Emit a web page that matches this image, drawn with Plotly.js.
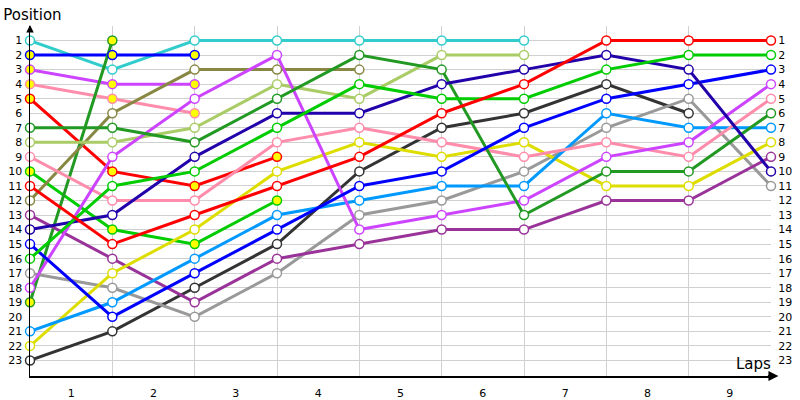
<!DOCTYPE html>
<html>
<head>
<meta charset="utf-8">
<script src="https://cdn.plot.ly/plotly-3.0.1.min.js"></script>
<style>html,body{margin:0;padding:0;background:#fff}#chart{width:800px;height:400px}</style>
</head>
<body>
<div id="chart"></div>
<script>
// Laps (x) and lap labels
const laps = [0, 1, 2, 3, 4, 5, 6, 7, 8, 9];
const lapLabels = ['1', '2', '3', '4', '5', '6', '7', '8', '9'];
const positionTicks = [1,2,3,4,5,6,7,8,9,10,11,12,13,14,15,16,17,18,19,20,21,22,23];

// Position of each entrant after each lap (null = no longer running)
const cyan       = [1, 3, 1, 1, 1, 1, 1, null, null, null];
const blueA      = [2, 2, 2, null, null, null, null, null, null, null];
const violetA    = [3, 4, 4, null, null, null, null, null, null, null];
const pinkA      = [4, 5, 6, null, null, null, null, null, null, null];
const redA       = [5, 10, 11, 9, null, null, null, null, null, null];
const forestB    = [7, 7, 8, 5, 2, 3, 13, 10, 10, 6];
const lightGreen = [8, 8, 7, 4, 5, 2, 2, null, null, null];
const pinkB      = [9, 12, 12, 8, 7, 8, 9, 8, 9, 5];
const limeA      = [10, 14, 15, 12, null, null, null, null, null, null];
const redB       = [11, 15, 13, 11, 9, 6, 4, 1, 1, 1];
const olive      = [12, 6, 3, 3, 3, null, null, null, null, null];
const purple     = [13, 16, 19, 16, 15, 14, 14, 12, 12, 9];
const darkBlue   = [14, 13, 9, 6, 6, 4, 3, 2, 3, 10];
const blueB      = [15, 20, 17, 14, 11, 10, 7, 5, 4, 3];
const limeB      = [16, 11, 10, 7, 4, 5, 5, 3, 2, 2];
const grey       = [17, 18, 20, 17, 13, 12, 10, 7, 5, 11];
const violetB    = [18, 9, 5, 2, 14, 13, 12, 9, 8, 4];
const forestA    = [19, 1, null, null, null, null, null, null, null, null];
const lightBlue  = [21, 19, 16, 13, 12, 11, 11, 6, 7, 7];
const yellow     = [22, 17, 14, 10, 8, 9, 8, 11, 11, 8];
const black      = [23, 21, 18, 15, 10, 7, 6, 4, 6, null];

const series = [
  {name: 'Cyan',        y: cyan,       color: '#33CCCC', fill: '#FFFFFF'},
  {name: 'Blue A',      y: blueA,      color: '#0000FF', fill: '#FFFF00'},
  {name: 'Violet A',    y: violetA,    color: '#CC44FF', fill: '#FFFF00'},
  {name: 'Pink A',      y: pinkA,      color: '#FF8CAA', fill: '#FFFF00'},
  {name: 'Red A',       y: redA,       color: '#FF0000', fill: '#FFFF00'},
  {name: 'Lime A',      y: limeA,      color: '#00CC00', fill: '#FFFF00'},
  {name: 'Forest A',    y: forestA,    color: '#229922', fill: '#FFFF00'},
  {name: 'Olive',       y: olive,      color: '#888844', fill: '#FFFFFF'},
  {name: 'Light green', y: lightGreen, color: '#AACC66', fill: '#FFFFFF'},
  {name: 'Black',       y: black,      color: '#333333', fill: '#FFFFFF'},
  {name: 'Grey',        y: grey,       color: '#999999', fill: '#FFFFFF'},
  {name: 'Purple',      y: purple,     color: '#993399', fill: '#FFFFFF'},
  {name: 'Yellow',      y: yellow,     color: '#DDDD00', fill: '#FFFFFF'},
  {name: 'Light blue',  y: lightBlue,  color: '#0099FF', fill: '#FFFFFF'},
  {name: 'Pink B',      y: pinkB,      color: '#FF8CAA', fill: '#FFFFFF'},
  {name: 'Violet B',    y: violetB,    color: '#CC44FF', fill: '#FFFFFF'},
  {name: 'Forest B',    y: forestB,    color: '#229922', fill: '#FFFFFF'},
  {name: 'Blue B',      y: blueB,      color: '#0000FF', fill: '#FFFFFF'},
  {name: 'Dark blue',   y: darkBlue,   color: '#2200AA', fill: '#FFFFFF'},
  {name: 'Lime B',      y: limeB,      color: '#00CC00', fill: '#FFFFFF'},
  {name: 'Red B',       y: redB,       color: '#FF0000', fill: '#FFFFFF'}
];

const traces = [];
// lines first (base subplot)
series.forEach(s => {
  traces.push({
    type: 'scatter', mode: 'lines', x: laps, y: s.y, name: s.name,
    line: {color: s.color, width: 3}, connectgaps: false,
    showlegend: false, cliponaxis: false, hoverinfo: 'skip'
  });
});
// markers on the overlaying axis so they sit above every line
series.forEach(s => {
  traces.push({
    type: 'scatter', mode: 'markers', x: laps, y: s.y, name: s.name, yaxis: 'y2',
    marker: {symbol: 'circle', size: 9, color: s.fill, line: {color: s.color, width: 1.5}},
    showlegend: false, cliponaxis: false
  });
});

const mids = lapLabels.map((_, i) => (laps[i] + laps[i + 1]) / 2);
const yRange = [24.07, 0];
const font = {family: 'DejaVu Sans, Verdana, sans-serif', size: 11, color: '#000'};

const layout = {
  width: 800, height: 400,
  margin: {l: 30, r: 29, t: 26, b: 24, pad: 0},
  paper_bgcolor: '#ffffff', plot_bgcolor: '#ffffff',
  font: font,
  showlegend: false,
  title: {text: 'Position', x: 0.004, xanchor: 'left', xref: 'container',
          y: 0.962, yanchor: 'middle', yref: 'container',
          font: {family: 'DejaVu Sans, Verdana, sans-serif', size: 15, color: '#000'}},
  xaxis: {
    range: [0, 9], autorange: false, zeroline: false,
    tickmode: 'array', tickvals: mids, ticktext: lapLabels,
    showgrid: false, ticks: 'outside', ticklen: 6, tickcolor: 'rgba(0,0,0,0)',
    minor: {tickmode: 'array', tickvals: laps, showgrid: true, gridcolor: '#D0D0D0', gridwidth: 1, ticks: ''},
    showline: true, linecolor: '#000', linewidth: 2,
    tickfont: font, fixedrange: true
  },
  yaxis: {
    range: yRange, autorange: false, zeroline: false,
    tickmode: 'array', tickvals: positionTicks, ticktext: positionTicks.map(String),
    showgrid: true, gridcolor: '#D0D0D0', gridwidth: 1,
    ticks: 'outside', ticklen: 4, tickcolor: 'rgba(0,0,0,0)',
    showline: true, linecolor: '#000', linewidth: 1.5,
    tickfont: font, fixedrange: true
  },
  yaxis2: {
    overlaying: 'y', side: 'right', anchor: 'x',
    range: yRange, autorange: false, zeroline: false,
    tickmode: 'array', tickvals: positionTicks, ticktext: positionTicks.map(String),
    showgrid: false, showline: false,
    ticks: 'outside', ticklen: 4, tickcolor: 'rgba(0,0,0,0)',
    tickfont: font, fixedrange: true
  },
  annotations: [
    {xref: 'paper', yref: 'paper', x: 1.003, y: 0.035, xanchor: 'right', yanchor: 'middle',
     text: 'Laps', showarrow: false,
     font: {family: 'DejaVu Sans, Verdana, sans-serif', size: 15, color: '#000'}},
    {xref: 'paper', yref: 'paper', x: 1.01, y: 0, ax: -12, ay: 0, axref: 'pixel', ayref: 'pixel',
     text: '', showarrow: true, arrowhead: 2, arrowsize: 1, arrowwidth: 2, arrowcolor: '#000'},
    {xref: 'paper', yref: 'paper', x: 0, y: 1.003, ax: 0, ay: 4, axref: 'pixel', ayref: 'pixel',
     text: '', showarrow: true, arrowhead: 2, arrowsize: 1, arrowwidth: 1.5, arrowcolor: '#000'}
  ]
};

Plotly.newPlot('chart', traces, layout, {displayModeBar: false, staticPlot: true});
</script>
</body>
</html>
